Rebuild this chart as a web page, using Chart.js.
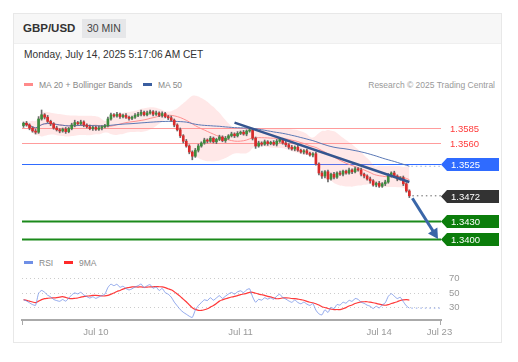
<!DOCTYPE html>
<html>
<head>
<meta charset="utf-8">
<script src="https://cdn.jsdelivr.net/npm/chart.js@4.4.1/dist/chart.umd.min.js"></script>
<style>
  body { margin: 0; background: #fff; font-family: "Liberation Sans", Arial, sans-serif; }
  #card { position: absolute; left: 13px; top: 13px; width: 489px; height: 330px; border: 1px solid #e8e8e8; box-sizing: border-box; }
  #head { position: absolute; left: 0; top: 0; right: 0; height: 29px; background: #f7f7f7; border-bottom: 1px solid #efefef; }
  #pair { position: absolute; left: 9px; top: 8px; font-size: 11.5px; font-weight: bold; color: #333; }
  #tf { position: absolute; left: 68px; top: 5px; height: 19px; line-height: 19px; padding: 0 5px; background: #e6e7e9; font-size: 10.5px; color: #444; }
  #date { position: absolute; left: 10px; top: 35px; font-size: 10.2px; color: #333; }
  .leg { position: absolute; font-size: 8.5px; color: #888; white-space: nowrap; }
  .sw { display: inline-block; width: 9px; height: 3px; vertical-align: middle; margin-right: 6px; margin-top: -2px; }
  canvas { position: absolute; left: 14px; }
</style>
</head>
<body>
<div id="card">
  <div id="head"><span id="pair">GBP/USD</span><span id="tf">30 MIN</span></div>
  <div id="date">Monday, July 14, 2025 5:17:06 AM CET</div>
  <div class="leg" style="left:10px;top:66px"><span class="sw" style="background:#ff8a8a"></span>MA 20 + Bollinger Bands</div>
  <div class="leg" style="left:129px;top:66px"><span class="sw" style="background:#3a5ea0"></span>MA 50</div>
  <div class="leg" style="right:6px;top:66px;color:#999">Research © 2025 Trading Central</div>
  <div class="leg" style="left:10px;top:244px"><span class="sw" style="background:#6f8fe6"></span>RSI</div>
  <div class="leg" style="left:50px;top:244px"><span class="sw" style="background:#ff2a2a"></span>9MA</div>
</div>
<canvas id="price" width="488" height="153" style="top:95px"></canvas>
<canvas id="rsi" width="488" height="76" style="top:268px"></canvas>
<script>
// 30 min closes, Jul 9 12:00 -> Jul 14 05:00
const closes = [
  1.3593, 1.3590, 1.3585, 1.3580, 1.3578, 1.3600, 1.3607, 1.3603, 1.3596, 1.3592,
  1.3585, 1.3582, 1.3580, 1.3583, 1.3579, 1.3584, 1.3590, 1.3594, 1.3592, 1.3595,
  1.3590, 1.3587, 1.3584, 1.3586, 1.3583, 1.3585, 1.3587, 1.3589, 1.3600, 1.3607,
  1.3605, 1.3608, 1.3604, 1.3606, 1.3603, 1.3601, 1.3603, 1.3606, 1.3608, 1.3611,
  1.3607, 1.3610, 1.3612, 1.3608, 1.3610, 1.3606, 1.3609, 1.3604, 1.3602, 1.3598,
  1.3590, 1.3582, 1.3572, 1.3563, 1.3555, 1.3545, 1.3538, 1.3548, 1.3555, 1.3560,
  1.3565, 1.3563, 1.3568, 1.3562, 1.3566, 1.3570, 1.3564, 1.3568, 1.3572, 1.3575,
  1.3572, 1.3576, 1.3578, 1.3575, 1.3580, 1.3582, 1.3568, 1.3555, 1.3560, 1.3558,
  1.3562, 1.3559, 1.3561, 1.3558, 1.3563, 1.3566, 1.3560, 1.3557, 1.3553, 1.3550,
  1.3553, 1.3548, 1.3545, 1.3547, 1.3543, 1.3540, 1.3542, 1.3525, 1.3510, 1.3505,
  1.3512, 1.3500, 1.3508, 1.3503, 1.3510, 1.3508, 1.3513, 1.3510, 1.3515, 1.3512,
  1.3517, 1.3515, 1.3508, 1.3505, 1.3500, 1.3497, 1.3490, 1.3493, 1.3488, 1.3492,
  1.3495, 1.3505, 1.3510, 1.3505, 1.3500, 1.3502, 1.3492, 1.3480, 1.3472
];
const firstOpen = 1.3589;
// wick lengths in pips above / below the body
const wickUp = [
  2,3,2,2,3,4,8,2,3,2, 2,3,2,2,3,2,3,4,2,3, 2,2,3,2,2,3,2,2,3,3,
  2,3,2,2,3,2,2,3,3,4, 2,3,3,2,3,2,3,2,2,3, 2,2,3,2,3,2,2,3,3,2,
  3,2,3,2,2,3,2,3,2,3, 2,3,2,3,2,3,2,2,3,2, 3,2,2,3,3,2,2,3,2,3,
  2,3,2,2,3,2,2,3,2,3, 2,3,2,3,2,3,2,2,3,2, 3,2,3,2,2,3,2,2,3,2,
  3,4,2,3,2,2,3,2,2
];
const wickDn = [
  3,2,3,2,3,2,2,3,2,3, 2,2,3,2,3,2,2,3,2,2, 3,2,2,3,2,2,3,2,2,2,
  2,2,3,2,2,3,2,2,2,3, 2,2,2,3,2,2,3,2,3,2, 3,2,3,3,2,3,6,2,3,2,
  2,3,2,2,3,2,2,3,2,2, 3,2,2,2,3,2,3,4,2,3, 2,3,2,2,3,2,2,3,3,2,
  3,2,2,3,2,2,3,2,3,4, 3,5,2,3,2,2,3,2,2,3, 2,2,3,3,2,4,2,3,2,2,
  3,2,2,2,3,2,3,2,3
];
const futureBars = 10;

const levels = [1.3585, 1.3560, 1.3525, 1.3430, 1.3400];
const levelKinds = ['res', 'res', 'pivot', 'sup', 'sup'];
const trendStart = [70, 1.3594];
const trendEnd = [128, 1.3495];
const arrowStart = [129, 1.3468];
const arrowEnd = [137.5, 1.3400];

const xTickIdx = [24, 72, 118, 138];
const xTickText = ['Jul 10', 'Jul 11', 'Jul 14', 'Jul 23'];
const rsiTicks = [30, 50, 70];

const pip = 0.0001;
const opens = closes.map((c, i) => i === 0 ? firstOpen : closes[i - 1]);
const bodies = closes.map((c, i) => [opens[i], c]);
const wicks = closes.map((c, i) => [Math.min(opens[i], c) - wickDn[i] * pip, Math.max(opens[i], c) + wickUp[i] * pip]);
const labels = Array.from({length: closes.length + futureBars}, (_, i) => i);

function sma(arr, n) {
  return arr.map((_, i) => {
    const s = arr.slice(Math.max(0, i - n + 1), i + 1);
    return s.reduce((a, b) => a + b, 0) / s.length;
  });
}
function sd(arr, n) {
  const m = sma(arr, n);
  return arr.map((_, i) => {
    const s = arr.slice(Math.max(0, i - n + 1), i + 1);
    return Math.sqrt(s.reduce((a, b) => a + (b - m[i]) ** 2, 0) / s.length);
  });
}
function rsi(arr, n) {
  let g = 0, l = 0;
  for (let i = 1; i <= n; i++) {
    const d = arr[i] - arr[i - 1];
    if (d > 0) g += d; else l -= d;
  }
  let ag = g / n, al = l / n;
  const out = [100 - 100 / (1 + ag / al)];
  for (let i = 1; i < arr.length; i++) {
    const d = arr[i] - arr[i - 1];
    ag = (ag * (n - 1) + Math.max(d, 0)) / n;
    al = (al * (n - 1) + Math.max(-d, 0)) / n;
    out.push(100 - 100 / (1 + ag / al));
  }
  return out;
}

const ma20 = sma(closes, 20);
const dev = sd(closes, 20);
const upper = ma20.map((m, i) => m + 2 * dev[i]);
const lower = ma20.map((m, i) => m - 2 * dev[i]);
const ma50 = sma(closes, 50);
const rsiVals = rsi(closes, 14);
const rsiMa = sma(rsiVals, 9);

Chart.defaults.font.family = '"Liberation Sans", Arial, sans-serif';
const F = '"Liberation Sans", Arial, sans-serif';

function tag(ctx, x0, py, text, bg) {
  ctx.fillStyle = bg;
  ctx.beginPath();
  ctx.moveTo(x0, py);
  ctx.lineTo(x0 + 6, py - 6.5);
  ctx.lineTo(x0 + 58, py - 6.5);
  ctx.lineTo(x0 + 58, py + 6.5);
  ctx.lineTo(x0 + 6, py + 6.5);
  ctx.closePath();
  ctx.fill();
  ctx.fillStyle = '#fff';
  ctx.font = '9.5px ' + F;
  ctx.textBaseline = 'middle';
  ctx.fillText(text, x0 + 10, py + 0.5);
}

const priceMarks = {
  id: 'priceMarks',
  beforeDatasetsDraw(chart) {
    const {ctx, chartArea: a, scales: {y}} = chart;
    ctx.save();
    levels.forEach((v, k) => {
      const py = Math.round(y.getPixelForValue(v)) + 0.5;
      const kind = levelKinds[k];
      ctx.strokeStyle = kind === 'res' ? '#ff9c9c' : kind === 'pivot' ? '#2f6bff' : '#1b8a1b';
      ctx.lineWidth = kind === 'sup' ? 2 : 1.2;
      ctx.beginPath();
      ctx.moveTo(a.left, py);
      ctx.lineTo(a.right, py);
      ctx.stroke();
    });
    ctx.restore();
  },
  afterDatasetsDraw(chart) {
    const {ctx, chartArea: a, scales: {x, y}} = chart;
    const last = closes.length - 1;
    const lx = x.getPixelForValue(last);
    ctx.save();
    // dotted extensions
    ctx.setLineDash([1.5, 3]);
    ctx.lineWidth = 1;
    ctx.strokeStyle = '#9fb3da';
    let py = y.getPixelForValue(ma50[last]);
    ctx.beginPath(); ctx.moveTo(lx + 2, py); ctx.lineTo(a.right, py); ctx.stroke();
    ctx.strokeStyle = '#666';
    py = y.getPixelForValue(closes[last]);
    ctx.beginPath(); ctx.moveTo(lx + 3, py); ctx.lineTo(a.right, py); ctx.stroke();
    ctx.setLineDash([]);
    // trend line
    ctx.strokeStyle = '#34558f';
    ctx.lineWidth = 2.5;
    ctx.beginPath();
    ctx.moveTo(x.getPixelForValue(trendStart[0]), y.getPixelForValue(trendStart[1]));
    ctx.lineTo(x.getPixelForValue(trendEnd[0]), y.getPixelForValue(trendEnd[1]));
    ctx.stroke();
    // arrow
    const ax0 = x.getPixelForValue(arrowStart[0]), ay0 = y.getPixelForValue(arrowStart[1]);
    const ax1 = x.getPixelForValue(arrowEnd[0]), ay1 = y.getPixelForValue(arrowEnd[1]);
    const ang = Math.atan2(ay1 - ay0, ax1 - ax0);
    ctx.strokeStyle = '#3a66a8';
    ctx.fillStyle = '#3a66a8';
    ctx.lineWidth = 3;
    ctx.beginPath();
    ctx.moveTo(ax0, ay0);
    ctx.lineTo(ax1 - 7 * Math.cos(ang), ay1 - 7 * Math.sin(ang));
    ctx.stroke();
    ctx.beginPath();
    ctx.moveTo(ax1, ay1);
    ctx.lineTo(ax1 - 10 * Math.cos(ang) + 5.5 * Math.sin(ang), ay1 - 10 * Math.sin(ang) - 5.5 * Math.cos(ang));
    ctx.lineTo(ax1 - 10 * Math.cos(ang) - 5.5 * Math.sin(ang), ay1 - 10 * Math.sin(ang) + 5.5 * Math.cos(ang));
    ctx.closePath();
    ctx.fill();
    // labels
    levels.forEach((v, k) => {
      const ly = Math.round(y.getPixelForValue(v)) + 0.5;
      const kind = levelKinds[k];
      if (kind === 'res') {
        ctx.fillStyle = '#ff3b3b';
        ctx.font = '9.5px ' + F;
        ctx.textBaseline = 'middle';
        ctx.fillText(v.toFixed(4), a.right + 9, ly + 0.5);
      } else {
        tag(ctx, a.right, ly, v.toFixed(4), kind === 'pivot' ? '#2f6bff' : '#0b7d0b');
      }
    });
    tag(ctx, a.right, Math.round(y.getPixelForValue(closes[last])) + 0.5, closes[last].toFixed(4), '#333');
    ctx.restore();
  }
};

new Chart(document.getElementById('price'), {
  type: 'bar',
  data: {
    labels: labels,
    datasets: [
      {data: wicks, backgroundColor: '#6a6a6a', barThickness: 1, grouped: false, order: 2},
      {data: bodies, backgroundColor: closes.map((c, i) => c >= opens[i] ? '#3d8c3d' : '#d92b2b'),
       barThickness: 2, minBarLength: 1, grouped: false, order: 1},
      {type: 'line', data: ma20, borderColor: '#ff8f8f', borderWidth: 1, pointRadius: 0, tension: 0.3, order: 4},
      {type: 'line', data: upper, borderWidth: 0, pointRadius: 0, tension: 0.4, fill: '+1',
       backgroundColor: 'rgba(255,140,140,0.2)', order: 6},
      {type: 'line', data: lower, borderWidth: 0, pointRadius: 0, tension: 0.4, order: 6},
      {type: 'line', data: ma50, borderColor: '#5a78b5', borderWidth: 1, pointRadius: 0, tension: 0.3, order: 3}
    ]
  },
  options: {
    responsive: false,
    animation: false,
    layout: {padding: {left: 8, right: 61, top: 0, bottom: 0}},
    plugins: {legend: {display: false}, tooltip: {enabled: false}},
    scales: {
      x: {display: false, offset: true},
      y: {display: false, min: 1.3385, max: 1.3640}
    }
  },
  plugins: [priceMarks]
});

const rsiMarks = {
  id: 'rsiMarks',
  afterDatasetsDraw(chart) {
    const {ctx, chartArea: a, scales: {x, y}} = chart;
    const last = rsiVals.length - 1;
    ctx.save();
    ctx.setLineDash([1.5, 3]);
    ctx.strokeStyle = '#8ea6ea';
    ctx.lineWidth = 1;
    const py = y.getPixelForValue(rsiVals[last]);
    ctx.beginPath(); ctx.moveTo(x.getPixelForValue(last) + 2, py); ctx.lineTo(a.right, py); ctx.stroke();
    ctx.setLineDash([]);
    ctx.strokeStyle = '#aaa';
    ctx.lineWidth = 1;
    [a.left + 0.5, a.right - 0.5].forEach(px => {
      ctx.beginPath(); ctx.moveTo(px, a.bottom); ctx.lineTo(px, a.bottom + 5); ctx.stroke();
    });
    ctx.restore();
  }
};

new Chart(document.getElementById('rsi'), {
  type: 'line',
  data: {
    labels: labels,
    datasets: [
      {data: rsiVals, borderColor: 'rgba(110,140,230,0.75)', borderWidth: 1, pointRadius: 0, tension: 0.2},
      {data: rsiMa, borderColor: '#ff3a3a', borderWidth: 1.2, pointRadius: 0, tension: 0.3}
    ]
  },
  options: {
    responsive: false,
    animation: false,
    layout: {padding: {left: 8, right: 0, top: 0, bottom: 0}},
    plugins: {legend: {display: false}, tooltip: {enabled: false}},
    scales: {
      x: {
        offset: true,
        grid: {display: false, drawTicks: false},
        border: {color: '#aaa', width: 2},
        ticks: {
          autoSkip: false, maxRotation: 0, padding: 7, color: '#999', font: {size: 9.5},
          callback: (v, i) => {
            const k = xTickIdx.indexOf(i);
            return k >= 0 ? xTickText[k] : '';
          }
        },
        afterFit: s => { s.height = 24; s.paddingLeft = 0; s.paddingRight = 0; }
      },
      y: {
        position: 'right',
        min: 13, max: 85,
        afterBuildTicks: s => { s.ticks = rsiTicks.map(v => ({value: v})); },
        grid: {color: '#ccc', drawTicks: false},
        border: {display: false, dash: [1, 3]},
        ticks: {padding: 8, color: '#999', font: {size: 9.5}},
        afterFit: s => { s.width = 61; s.paddingTop = 0; s.paddingBottom = 0; }
      }
    }
  },
  plugins: [rsiMarks]
});
</script>
</body>
</html>
